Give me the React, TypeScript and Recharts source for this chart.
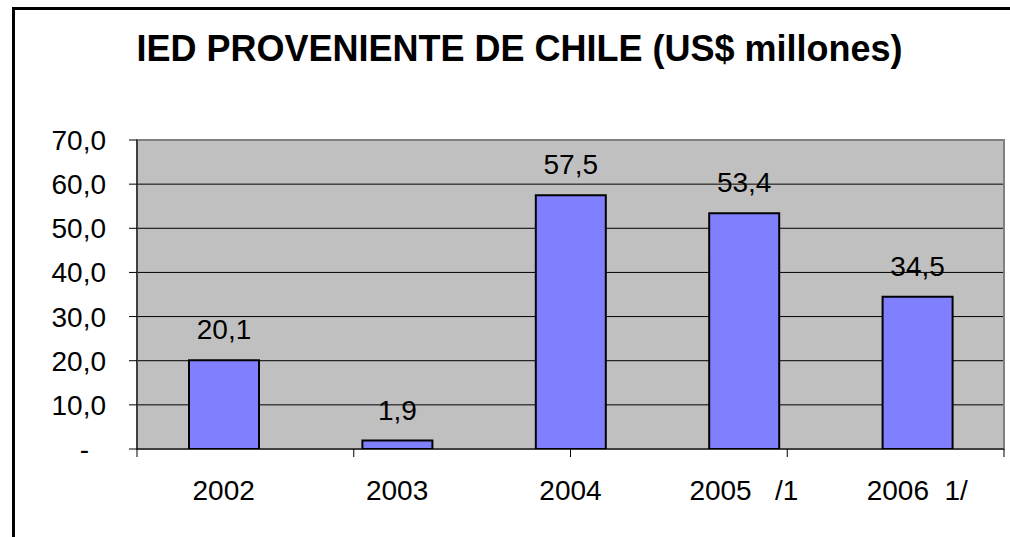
import { BarChart, Bar, XAxis, YAxis, CartesianGrid, ReferenceArea, LabelList } from 'recharts';

const years = ['2002', '2003', '2004', '2005   /1', '2006  1/'];
const ied = [20.1, 1.9, 57.5, 53.4, 34.5];
const yTicks = [0, 10, 20, 30, 40, 50, 60, 70];
const edgeTicks = [0, 1, 2, 3, 4, 5];

const data = years.map((year, i) => ({ year, ied: ied[i] }));

const FONT = 'Arial, "Liberation Sans", sans-serif';
const fmt = (v: number) => v.toFixed(1).replace('.', ',');

function YTick({ x, y, payload }: any) {
  const zero = payload.value === 0;
  return (
    <text x={zero ? x - 17 : x} y={y} dy="0.355em" textAnchor="end" fontSize={28} fontFamily={FONT} fill="#000">
      {zero ? '-' : fmt(payload.value)}
    </text>
  );
}

function XTick({ x, y, payload }: any) {
  return (
    <text x={x} y={y} dy="0.71em" textAnchor="middle" fontSize={28} fontFamily={FONT} fill="#000" style={{ whiteSpace: 'pre' }}>
      {payload.value}
    </text>
  );
}

export default function App() {
  return (
    <div style={{ position: 'absolute', left: 0, top: 0, width: 1010, height: 537, overflow: 'hidden', background: '#fff', fontFamily: FONT }}>
      <BarChart width={1010} height={537} data={data} margin={{ top: 140, right: 6, bottom: 0, left: 0 }} style={{ position: 'absolute', left: 0, top: 0 }}>
        <CartesianGrid xAxisId="z" vertical={false} fill="#C0C0C0" fillOpacity={1} stroke="#000" strokeWidth={1} />
        <ReferenceArea xAxisId="z" y1={0} y2={70} fill="none" stroke="#808080" strokeWidth={2} />
        {/* category boundary ticks sit on their own numeric axis */}
        <XAxis xAxisId="a" type="number" domain={[0, 5]} ticks={edgeTicks} allowDataOverflow height={8} tickSize={8} stroke="#000" tickFormatter={() => ''} />
        <XAxis xAxisId="z" dataKey="year" height={80} axisLine={false} tickLine={false} tickSize={0} tickMargin={23} tick={<XTick />} interval={0} />
        <YAxis domain={[0, 70]} ticks={yTicks} width={137} tickSize={8} tickMargin={23} stroke="#000" tick={<YTick />} interval={0} allowDataOverflow />
        <Bar xAxisId="z" dataKey="ied" fill="#8080FF" stroke="#000" strokeWidth={2} barSize={70} isAnimationActive={false}>
          <LabelList dataKey="ied" position="top" offset={21} formatter={(v: any) => fmt(Number(v))} fontSize={28} fontFamily={FONT} fill="#000" />
        </Bar>
      </BarChart>
      <div style={{ position: 'absolute', left: 12, top: 7, right: -20, bottom: -20, borderLeft: '3px solid #000', borderTop: '3px solid #000' }} />
      <div style={{ position: 'absolute', left: 0, top: 31, width: 1039, textAlign: 'center', fontSize: 36, fontWeight: 'bold', lineHeight: '36px', whiteSpace: 'nowrap', color: '#000' }}>
        IED PROVENIENTE DE CHILE (US$ millones)
      </div>
    </div>
  );
}
